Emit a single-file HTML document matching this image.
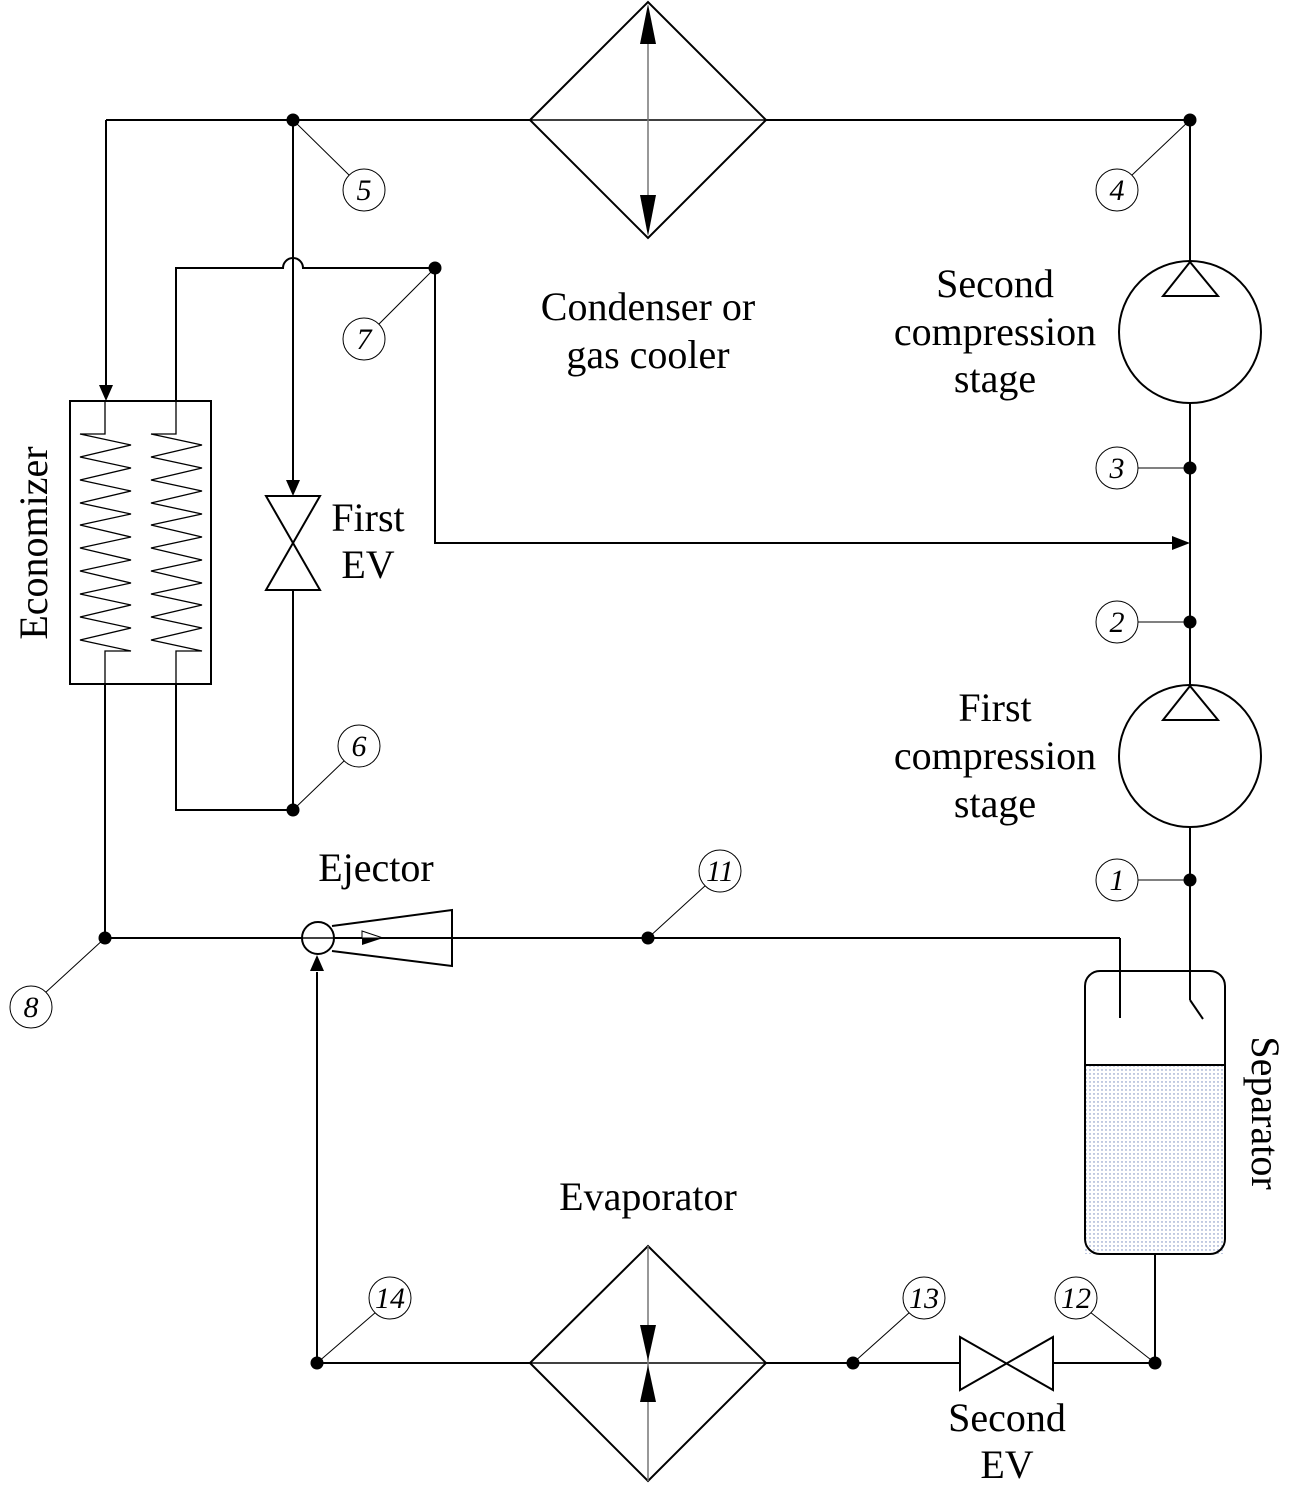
<!DOCTYPE html>
<html><head><meta charset="utf-8"><style>
html,body{margin:0;padding:0;background:#fff;}
svg{display:block;}
text{font-family:"Liberation Serif",serif;fill:#000;}
.lbl{font-size:40px;text-anchor:middle;}
.num{font-size:30px;font-style:italic;text-anchor:middle;}
</style></head><body>
<svg width="1296" height="1509" viewBox="0 0 1296 1509" xmlns="http://www.w3.org/2000/svg">
<defs>
<pattern id="dots" width="4" height="4" patternUnits="userSpaceOnUse">
<rect width="4" height="4" fill="#fff"/><circle cx="2" cy="2" r="0.7" fill="#6a7fb8"/>
</pattern>
</defs>
<g fill="none" stroke="#000" stroke-width="2">
<line x1="106" y1="120" x2="530" y2="120"/>
<line x1="766" y1="120" x2="1190" y2="120"/>
<line x1="106" y1="120" x2="106" y2="386"/>
<polygon points="530,120 648,2 766,120 648,238"/>
<line x1="530" y1="120" x2="766" y2="120" stroke-width="1.5"/>
<line x1="648" y1="40" x2="648" y2="200" stroke="#777" stroke-width="1.5"/>
<line x1="1190" y1="120" x2="1190" y2="262"/>
<circle cx="1190" cy="332" r="71"/>
<polygon points="1190,262 1163,296 1218,296"/>
<line x1="1190" y1="403" x2="1190" y2="686"/>
<circle cx="1190" cy="756" r="71"/>
<polygon points="1190,686 1163,720 1218,720"/>
<line x1="1190" y1="827" x2="1190" y2="1000"/>
<line x1="1190" y1="1000" x2="1203" y2="1019"/>
<path d="M176,401 L176,268 L283,268 A10,10 0 0 1 303,268 L435,268 L435,543 L1175,543"/>
<line x1="293" y1="120" x2="293" y2="482"/>
<polygon points="266,496 320,496 266,590 320,590" />
<line x1="293" y1="590" x2="293" y2="810"/>
<rect x="70" y="401" width="141" height="283"/>
</g>
<g fill="none" stroke="#000" stroke-width="1.3">
<polyline points="105,401 105,434 80,434 131,445 80,457 131,468 80,480 131,491 80,503 131,514 80,525 131,537 80,548 131,560 80,571 131,583 80,594 131,605 80,617 131,628 80,640 131,651 105,651 105,684"/>
<polyline points="176,401 176,434 151,434 202,445 151,457 202,468 151,480 202,491 151,503 202,514 151,525 202,537 151,548 202,560 151,571 202,583 151,594 202,605 151,617 202,628 151,640 202,651 176,651 176,684"/>
</g>
<g fill="none" stroke="#000" stroke-width="2">
<line x1="105" y1="684" x2="105" y2="938"/>
<polyline points="176,684 176,810 293,810"/>
<line x1="105" y1="938" x2="302" y2="938"/>
<line x1="302" y1="938" x2="1120" y2="938"/>
<polyline points="1120,938 1120,1018"/>
<circle cx="318" cy="938" r="16" fill="#fff"/>
<line x1="302" y1="938" x2="452" y2="938" stroke-width="1.5"/>
<polyline points="332,926 452,910 452,966 332,951"/>
<rect x="1085" y="1065" width="140" height="189" fill="url(#dots)" stroke="none"/>
<rect x="1085" y="971" width="140" height="283" rx="15"/>
<line x1="1085" y1="1065" x2="1225" y2="1065"/>
<line x1="1155" y1="1254" x2="1155" y2="1363"/>
<line x1="317" y1="1363" x2="530" y2="1363"/>
<line x1="766" y1="1363" x2="960" y2="1363"/>
<line x1="1053" y1="1363" x2="1155" y2="1363"/>
<polygon points="960,1337 960,1390 1053,1337 1053,1390"/>
<line x1="317" y1="1363" x2="317" y2="972"/>
<polygon points="530,1363 648,1246 766,1363 648,1481"/>
<line x1="530" y1="1363" x2="766" y2="1363" stroke-width="1.5"/>
<line x1="648" y1="1246" x2="648" y2="1481" stroke="#777" stroke-width="1.5"/>
</g>
<g fill="#000" stroke="none">
<polygon points="648,4 640,44 656,44"/>
<polygon points="648,236 640,195 656,195"/>
<polygon points="648,1361 640,1325 656,1325"/>
<polygon points="648,1365 640,1402 656,1402"/>
<polygon points="106,401 99,385 113,385"/>
<polygon points="293,496 286,480 300,480"/>
<polygon points="1190,543 1172,536 1172,550"/>
<polygon points="317,955 310,971 324,971"/>
<polygon points="362,938 383,938 362,945"/>
</g>
<polygon points="362,931 383,938 362,938" fill="#fff" stroke="#000" stroke-width="1"/>
<g fill="#000">
<circle cx="293" cy="120" r="6.5"/><circle cx="1190" cy="120" r="6.5"/>
<circle cx="435" cy="268" r="6.5"/><circle cx="1190" cy="468" r="6.5"/>
<circle cx="1190" cy="622" r="6.5"/><circle cx="1190" cy="880" r="6.5"/>
<circle cx="293" cy="810" r="6.5"/><circle cx="105" cy="938" r="6.5"/>
<circle cx="648" cy="938" r="6.5"/><circle cx="317" cy="1363" r="6.5"/>
<circle cx="853" cy="1363" r="6.5"/><circle cx="1155" cy="1363" r="6.5"/>
</g>
<g fill="#fff" stroke="#000" stroke-width="1">
<line x1="293" y1="120" x2="350" y2="176"/><circle cx="364" cy="190" r="21"/>
<line x1="1190" y1="120" x2="1131" y2="176"/><circle cx="1117" cy="190" r="21"/>
<line x1="435" y1="268" x2="378" y2="325"/><circle cx="364" cy="339" r="21"/>
<line x1="1190" y1="468" x2="1137" y2="468"/><circle cx="1117" cy="468" r="21"/>
<line x1="1190" y1="622" x2="1137" y2="622"/><circle cx="1117" cy="622" r="21"/>
<line x1="1190" y1="880" x2="1137" y2="880"/><circle cx="1117" cy="880" r="21"/>
<line x1="293" y1="810" x2="345" y2="760"/><circle cx="359" cy="746" r="21"/>
<line x1="105" y1="938" x2="45" y2="993"/><circle cx="31" cy="1007" r="21"/>
<line x1="648" y1="938" x2="706" y2="885"/><circle cx="720" cy="871" r="21"/>
<line x1="317" y1="1363" x2="376" y2="1312"/><circle cx="390" cy="1298" r="21"/>
<line x1="853" y1="1363" x2="910" y2="1312"/><circle cx="924" cy="1298" r="21"/>
<line x1="1155" y1="1363" x2="1090" y2="1312"/><circle cx="1076" cy="1298" r="21"/>
</g>
<g>
<text class="num" x="364" y="200">5</text>
<text class="num" x="1117" y="200">4</text>
<text class="num" x="364" y="349">7</text>
<text class="num" x="1117" y="478">3</text>
<text class="num" x="1117" y="632">2</text>
<text class="num" x="1117" y="890">1</text>
<text class="num" x="359" y="756">6</text>
<text class="num" x="31" y="1017">8</text>
<text class="num" x="720" y="881">11</text>
<text class="num" x="390" y="1308">14</text>
<text class="num" x="924" y="1308">13</text>
<text class="num" x="1076" y="1308">12</text>
</g>
<text class="lbl" x="648" y="320">Condenser or</text>
<text class="lbl" x="648" y="368">gas cooler</text>
<text class="lbl" x="995" y="297">Second</text>
<text class="lbl" x="995" y="345">compression</text>
<text class="lbl" x="995" y="392">stage</text>
<text class="lbl" x="995" y="721">First</text>
<text class="lbl" x="995" y="769">compression</text>
<text class="lbl" x="995" y="817">stage</text>
<text class="lbl" x="368" y="531">First</text>
<text class="lbl" x="368" y="578">EV</text>
<text class="lbl" x="376" y="881">Ejector</text>
<text class="lbl" x="648" y="1210">Evaporator</text>
<text class="lbl" x="1007" y="1431">Second</text>
<text class="lbl" x="1007" y="1478">EV</text>
<text class="lbl" transform="translate(47,543) rotate(-90)">Economizer</text>
<text class="lbl" transform="translate(1252,1113) rotate(90)">Separator</text>
</svg>
</body></html>
